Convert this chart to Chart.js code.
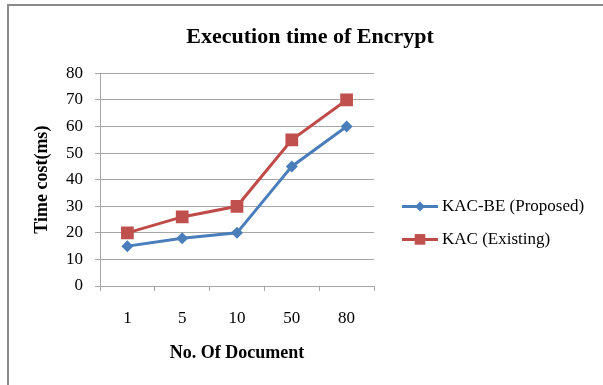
<!DOCTYPE html>
<html>
<head>
<meta charset="utf-8">
<script src="https://cdn.jsdelivr.net/npm/chart.js@4"></script>
<style>
  html, body { margin: 0; padding: 0; background: #fff; }
  #wrap { position: relative; width: 603px; height: 385px; overflow: hidden; }
  #frame { position: absolute; left: 7px; top: 4px; width: 700px; height: 500px;
           border-left: 2px solid #8a8a8a; border-top: 2px solid #8a8a8a; }
  #myChart { position: absolute; left: 0; top: 0; }
</style>
</head>
<body>
<div id="wrap">
  <div id="frame"></div>
  <canvas id="myChart" width="603" height="385"></canvas>
</div>
<script>
// data
const docCounts = ["1", "5", "10", "50", "80"];
const proposedTimes = [15, 18, 20, 45, 60];
const existingTimes = [20, 26, 30, 55, 70];
const seriesNames = ["KAC-BE (Proposed)", "KAC (Existing)"];
const yMin = 0, yMax = 80, yStep = 10;

const serif = "'Liberation Serif', 'Times New Roman', serif";
const gridGray = "#a6a6a6";

// excel style legend: short line with the marker in the middle
const sideLegend = {
  id: "sideLegend",
  afterDraw(chart) {
    const ctx = chart.ctx;
    const area = chart.chartArea;
    const x0 = area.right + 28;
    chart.data.datasets.forEach((ds, i) => {
      const y = area.top + 133 + i * 33;
      ctx.save();
      ctx.strokeStyle = ds.borderColor;
      ctx.lineWidth = ds.borderWidth;
      ctx.beginPath();
      ctx.moveTo(x0, y);
      ctx.lineTo(x0 + 36, y);
      ctx.stroke();
      ctx.fillStyle = ds.pointBackgroundColor;
      ctx.strokeStyle = ds.pointBorderColor;
      Chart.helpers.drawPoint(ctx, {
        pointStyle: ds.pointStyle,
        radius: ds.legendRadius,
        borderWidth: 0,
        rotation: 0
      }, x0 + 18, y);
      ctx.fillStyle = "#000";
      ctx.font = "17px " + serif;
      ctx.textBaseline = "middle";
      ctx.textAlign = "left";
      ctx.fillText(ds.label, x0 + 40, y);
      ctx.restore();
    });
  }
};

const config = {
  type: "line",
  data: {
    labels: docCounts,
    datasets: [
      {
        label: seriesNames[0],
        data: proposedTimes,
        borderColor: "#4a7ebb",
        borderWidth: 3,
        pointStyle: "rectRot",
        pointRadius: 6,
        legendRadius: 5,
        pointBackgroundColor: "#4a7ebb",
        pointBorderColor: "#4a7ebb",
        pointBorderWidth: 0,
        tension: 0
      },
      {
        label: seriesNames[1],
        data: existingTimes,
        borderColor: "#be4b48",
        borderWidth: 3,
        pointStyle: "rect",
        pointRadius: 9,
        legendRadius: 7.5,
        pointBackgroundColor: "#c0504d",
        pointBorderColor: "#c0504d",
        pointBorderWidth: 0,
        tension: 0
      }
    ]
  },
  options: {
    responsive: false,
    animation: false,
    layout: { padding: { left: 17, right: 0, top: 0, bottom: 0 } },
    plugins: {
      legend: { display: false },
      tooltip: { enabled: false },
      title: {
        display: true,
        text: "Execution time of Encrypt",
        color: "#000",
        font: { family: serif, size: 22, weight: "bold" },
        padding: { top: 24, bottom: 23 }
      }
    },
    scales: {
      x: {
        offset: true,
        grid: { offset: true, drawOnChartArea: false, drawTicks: true, tickLength: 5, color: gridGray },
        border: { color: gridGray },
        ticks: { color: "#000", font: { family: serif, size: 17 }, padding: 17, maxRotation: 0 },
        title: {
          display: true,
          text: "No. Of Document",
          color: "#000",
          font: { family: serif, size: 18, weight: "bold" },
          padding: { top: 4, bottom: 21 }
        },
        afterFit: (s) => { s.height = 99; }
      },
      y: {
        min: yMin,
        max: yMax,
        grid: { color: gridGray, drawTicks: true, tickLength: 5 },
        border: { color: gridGray },
        ticks: { stepSize: yStep, color: "#000", font: { family: serif, size: 17 }, padding: 12 },
        title: {
          display: true,
          text: "Time cost(ms)",
          color: "#000",
          font: { family: serif, size: 18, weight: "bold" },
          padding: { top: 15, bottom: 4 }
        },
        afterFit: (s) => { s.width = 83; }
      },
      // empty right-hand axis that only reserves room for the legend
      side: {
        position: "right",
        grid: { drawOnChartArea: false, drawTicks: false },
        border: { display: false },
        ticks: { display: false },
        afterFit: (s) => { s.width = 229; }
      }
    }
  },
  plugins: [sideLegend]
};

const myChart = new Chart(document.getElementById("myChart"), config);
</script>
</body>
</html>
